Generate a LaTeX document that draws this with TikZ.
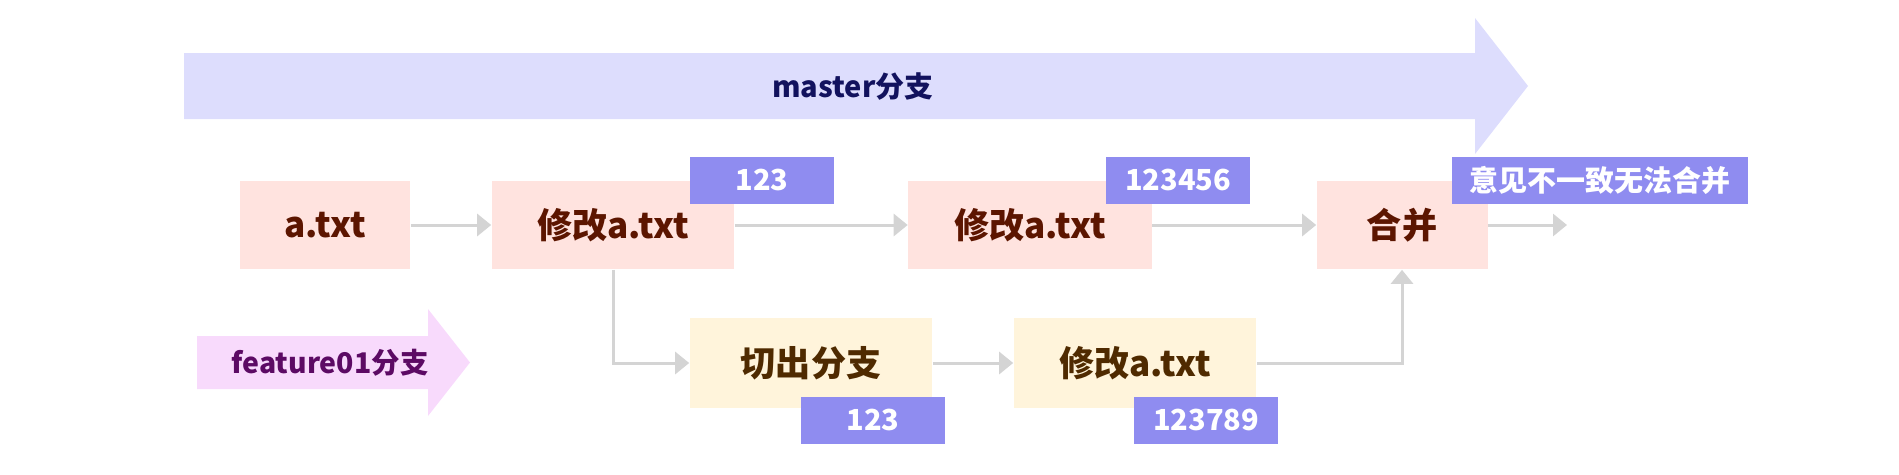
\documentclass[tikz,border=0pt]{standalone}
\usepackage{fontspec}
\setmainfont{Noto Sans CJK SC}
\usetikzlibrary{arrows.meta}
\definecolor{masterfill}{HTML}{DDDDFD}
\definecolor{mastertext}{HTML}{12125E}
\definecolor{featurefill}{HTML}{F8DAFC}
\definecolor{featuretext}{HTML}{5C0A64}
\definecolor{steppink}{HTML}{FFE3DF}
\definecolor{steptext}{HTML}{5C1500}
\definecolor{cutyellow}{HTML}{FFF4DB}
\definecolor{cuttext}{HTML}{4F2A00}
\definecolor{tagblue}{HTML}{8F8CF0}
\definecolor{flowgray}{HTML}{D4D4D4}

\begin{document}
\begin{tikzpicture}[
  x=0.02cm, y=-0.02cm,
  >={Triangle[length=0.28cm,width=0.44cm]},
  stepbox/.style={fill=steppink, text=steptext, minimum width=4.86cm,
    minimum height=1.78cm, inner sep=0pt,
    font=\fontsize{20}{23}\selectfont\bfseries},
  cutbox/.style={stepbox, fill=cutyellow, text=cuttext},
  tag/.style={fill=tagblue, text=white, minimum width=2.88cm,
    minimum height=0.94cm, inner sep=0pt,
    font=\fontsize{16.5}{19}\selectfont\bfseries},
  flow/.style={->, draw=flowgray, line width=0.06cm},
  branchname/.style={font=\fontsize{16.5}{19}\selectfont\bfseries}
]
\useasboundingbox (0,0) rectangle (1899,474);

% branch arrows
\fill[masterfill] (184,53) -- (1475,53) -- (1475,18) -- (1528,86)
  -- (1475,154) -- (1475,119) -- (184,119) -- cycle;
\node[branchname, text=mastertext] (mastername) at (853,87) {master分支};
\fill[featurefill] (197,336) -- (428,336) -- (428,309) -- (470,362.5)
  -- (428,416) -- (428,389) -- (197,389) -- cycle;
\node[branchname, font=\fontsize{16.2}{19}\selectfont\bfseries,
  text=featuretext] (featurename) at (330,363) {feature01分支};

% master steps
\node[stepbox, minimum width=3.42cm] (atxt) at (325,225) {a.txt};
\node[stepbox] (edit1) at (613,225) {修改a.txt};
\node[stepbox, minimum width=4.88cm] (edit2) at (1030,225) {修改a.txt};
\node[stepbox, minimum width=3.42cm] (merge) at (1402,225) {合并};
\coordinate (mergeout) at (1567,225);

% feature steps
\node[cutbox, minimum height=1.8cm] (cut) at (811,363) {切出分支};
\node[cutbox, minimum height=1.8cm] (edit3) at (1135,363) {修改a.txt};

\draw[flow] (atxt) -- (edit1);
\draw[flow] (edit1) -- (edit2);
\draw[flow] (edit2) -- (merge);
\draw[flow] (merge) -- (mergeout);
\draw[flow] (edit1.south) |- (cut.west);
\draw[flow] (cut) -- (edit3);
\draw[flow] (edit3.east) -| (merge.south);

% contents
\node[tag] (tag1) at (762,180) {123};
\node[tag] (tag2) at (1178,180) {123456};
\node[tag, minimum width=5.94cm] (tagmerge) at (1600,180) {意见不一致无法合并};
\node[tag] (tag3) at (873,420) {123};
\node[tag] (tag4) at (1206,420) {123789};
\end{tikzpicture}
\end{document}
